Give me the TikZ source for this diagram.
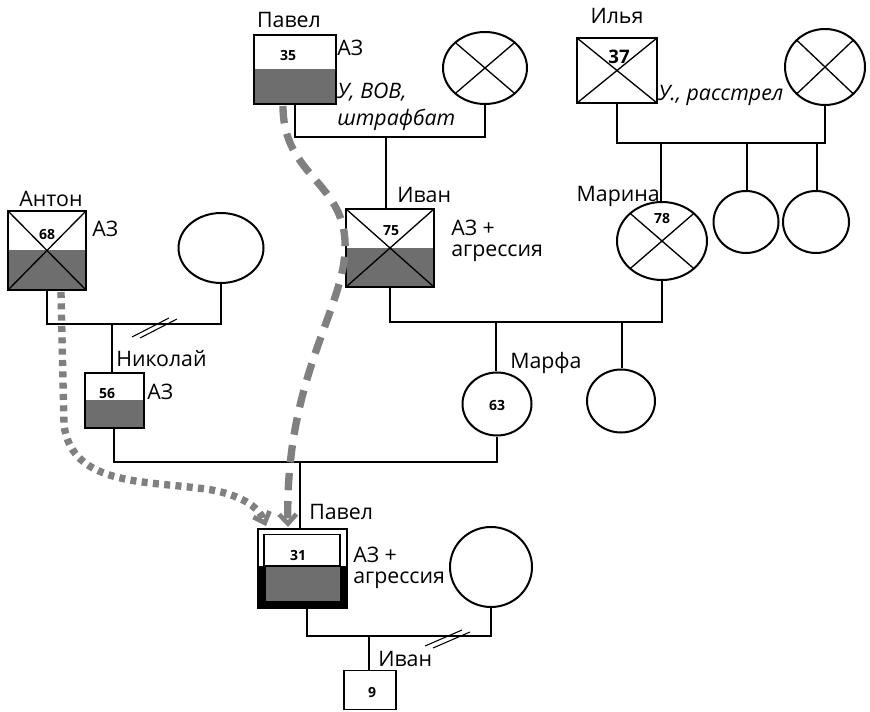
\documentclass[tikz,border=0pt]{standalone}
\usepackage{fontspec}
\setmainfont{Open Sans}
\usetikzlibrary{shapes.geometric, arrows.meta, positioning}

\definecolor{boxgray}{RGB}{110,110,110}
\definecolor{trailgray}{RGB}{128,128,128}

\tikzset{
  person/.style={draw, line width=1.5pt, inner sep=0pt},
  female/.style={person, ellipse},
  affected/.style={path picture={\fill[boxgray] (path picture bounding box.west) rectangle (path picture bounding box.south east);}},
  deceased/.style={path picture={\draw[line width=1pt] (path picture bounding box.north west) -- (path picture bounding box.south east) (path picture bounding box.north east) -- (path picture bounding box.south west);}},
  affdeceased/.style={path picture={\fill[boxgray] (path picture bounding box.west) rectangle (path picture bounding box.south east);
      \draw[line width=1pt] (path picture bounding box.north west) -- (path picture bounding box.south east) (path picture bounding box.north east) -- (path picture bounding box.south west);}},
  couple/.style={line width=1.5pt},
  descent/.style={line width=0.8pt},
  lbl/.style={inner sep=0pt, font=\fontsize{16}{18}\selectfont},
  note/.style={lbl, anchor=west, font=\fontsize{16}{18}\selectfont\itshape},
  age/.style={inner sep=0pt, font=\fontsize{10.5}{12}\selectfont\bfseries},
  divorce/.style={line width=0.8pt},
  trail/.style={trailgray, line width=5.5pt, -{Straight Barb[length=7pt,width=13pt,line width=3.5pt]}}
}

\begin{document}
\begin{tikzpicture}[x=0.75pt,y=0.75pt,yscale=-1,xscale=1]
\useasboundingbox (0,0) rectangle (870,712);

%Shape: Square [id:pavel1]
\node[person, affected, minimum width=61.5pt, minimum height=51.75pt] (pavel1) at (295,69.5) {};
%Shape: Circle [id:wife1]
\node[female, deceased, minimum width=63pt, minimum height=54pt] (wife1) at (485,68) {};
%Shape: Square [id:ilya]
\node[person, deceased, minimum width=60pt, minimum height=48.75pt] (ilya) at (617,70.5) {};
%Shape: Circle [id:wife2]
\node[female, deceased, minimum width=60pt, minimum height=57pt] (wife2) at (825,67) {};

%Shape: Square [id:ivan1]
\node[person, affdeceased, minimum width=66pt, minimum height=58.5pt] (ivan1) at (390,248) {};
%Shape: Circle [id:marina]
\node[female, deceased, minimum width=67.5pt, minimum height=58.5pt] (marina) at (662,241) {};
%Shape: Circle [id:sister1]
\node[female, minimum width=48.75pt, minimum height=46.5pt] (sister1) at (746,222) {};
%Shape: Circle [id:sister2]
\node[female, minimum width=49.5pt, minimum height=46.5pt] (sister2) at (816,222) {};

%Shape: Square [id:anton]
\node[person, affdeceased, minimum width=58.5pt, minimum height=59.25pt] (anton) at (47,250.5) {};
%Shape: Circle [id:wife3]
\node[female, minimum width=63.75pt, minimum height=52.5pt] (wife3) at (221,248) {};

%Shape: Square [id:nikolay]
\node[person, affected, minimum width=44.25pt, minimum height=41.25pt] (nikolay) at (114,400.5) {};
%Shape: Circle [id:marfa]
\node[female, minimum width=51.75pt, minimum height=47.25pt] (marfa) at (497,404) {};
%Shape: Circle [id:sister3]
\node[female, minimum width=51pt, minimum height=47.25pt] (sister3) at (621,401) {};

%Shape: Square [id:pavel2]
\node[person, minimum width=66.75pt, minimum height=59.25pt] (pavel2) at (302.5,568.5) {};
\fill (258,566) rectangle (347,608);
\fill[boxgray] (265.5,567) rectangle (339.5,601);
\draw[line width=1pt] (264,566) rectangle (340,534.5);
%Shape: Circle [id:wife4]
\node[female, minimum width=61.5pt, minimum height=60pt] (wife4) at (491,567) {};
%Shape: Square [id:ivan2]
\node[person, line width=1.2pt, minimum width=39pt, minimum height=29pt] (ivan2) at (370,690) {};

%Straight Lines: couples and children
\coordinate (c1) at (386,137);
\draw[couple] (pavel1.south) |- (c1) -| (wife1.south);
\draw[descent] (c1) -- (c1 |- ivan1.north);

\coordinate (c2) at (661,143);
\coordinate (c2b) at (747,143);
\coordinate (c2c) at (817,143);
\draw[couple] (ilya.south) |- (c2) -| (wife2.south);
\draw[couple] (c2) -- (c2 |- marina.north);
\draw[descent] (c2b) -- (c2b |- sister1.north);
\draw[descent] (c2c) -- (c2c |- sister2.north);

\coordinate (c3) at (112,324);
\draw[couple] (anton.south) |- (c3) -| (wife3.south);
\draw[descent] (c3) -- (c3 |- nikolay.north);
\draw[divorce] (132,337) -- (169,318) (140,338) -- (177,319);

\coordinate (c4) at (496,322);
\coordinate (c4b) at (622,322);
\draw[couple] (ivan1.south) |- (c4) -| (marina.south);
\draw[descent] (c4) -- (c4 |- marfa.north);
\draw[descent] (c4b) -- (c4b |- sister3.north);

\coordinate (c5) at (300,462);
\draw[couple] (nikolay.south) |- (c5) -| (marfa.south);
\draw[descent] (c5) -- (c5 |- pavel2.north);

\coordinate (c6) at (369,636);
\draw[couple] (pavel2.south) ++(4,0) |- (c6) -| (wife4.south);
\draw[descent] (c6) -- (c6 |- ivan2.north);
\draw[divorce] (425,646) -- (462,630) (433,648) -- (470,632);

%Curve Lines: inheritance trails
\coordinate (t1s) at (283,106);
\coordinate (t1e) at (288,527);
\draw[trail, dash pattern=on 13pt off 8pt] (t1s) .. controls (283,178) and (348,182) .. (345,250) .. controls (343,310) and (285,380) .. (t1e);
\coordinate (t2s) at (61,292);
\coordinate (t2e) at (266,526);
\draw[trail, dash pattern=on 4.5pt off 4pt] (t2s) -- (64,425) .. controls (72,488) and (150,480) .. (212,490) .. controls (238,495) and (258,505) .. (t2e);

% Text Node
\node[lbl] (lpavel1) at (289,20) {Павел};
\node[age] (n35) at (288,56) {35};
\node[lbl, anchor=west] (az1) at (337,48) {АЗ};
\node[note] (u1) at (337,92) {У, ВОВ,};
\node[note] (u2) at (337,120) {штрафбат};
% Text Node
\node[lbl] (lilya) at (617,16) {Илья};
\node[age, font=\fontsize{14}{16}\selectfont\bfseries] (n37) at (619,57) {37};
\node[note] (u3) at (658,95) {У., расстрел};
% Text Node
\node[lbl, anchor=west] (livan1) at (397,195) {Иван};
\node[age] (n75) at (391,231) {75};
\node[lbl, anchor=west] (az2) at (451,228) {АЗ +};
\node[lbl, anchor=west] (ag2) at (451,253) {агрессия};
% Text Node
\node[lbl, anchor=east] (lmarina) at (660,196) {Марина};
\node[age] (n78) at (662,219) {78};
% Text Node
\node[lbl] (lanton) at (51,199) {Антон};
\node[age] (n68) at (47,235) {68};
\node[lbl, anchor=west] (az3) at (92,229) {АЗ};
% Text Node
\node[lbl, anchor=west] (lnikolay) at (116,359) {Николай};
\node[age] (n56) at (107,394) {56};
\node[lbl, anchor=west] (az4) at (147,392) {АЗ};
% Text Node
\node[lbl, anchor=west] (lmarfa) at (510,363) {Марфа};
\node[age] (n63) at (497,405) {63};
% Text Node
\node[lbl, anchor=west] (lpavel2) at (309,512) {Павел};
\node[age] (n31) at (298,555) {31};
\node[lbl, anchor=west] (az5) at (353,555) {АЗ +};
\node[lbl, anchor=west] (ag5) at (353,580) {агрессия};
% Text Node
\node[lbl, anchor=west] (livan2) at (378,659) {Иван};
\node[age] (n9) at (372,693) {9};

\end{tikzpicture}
\end{document}
